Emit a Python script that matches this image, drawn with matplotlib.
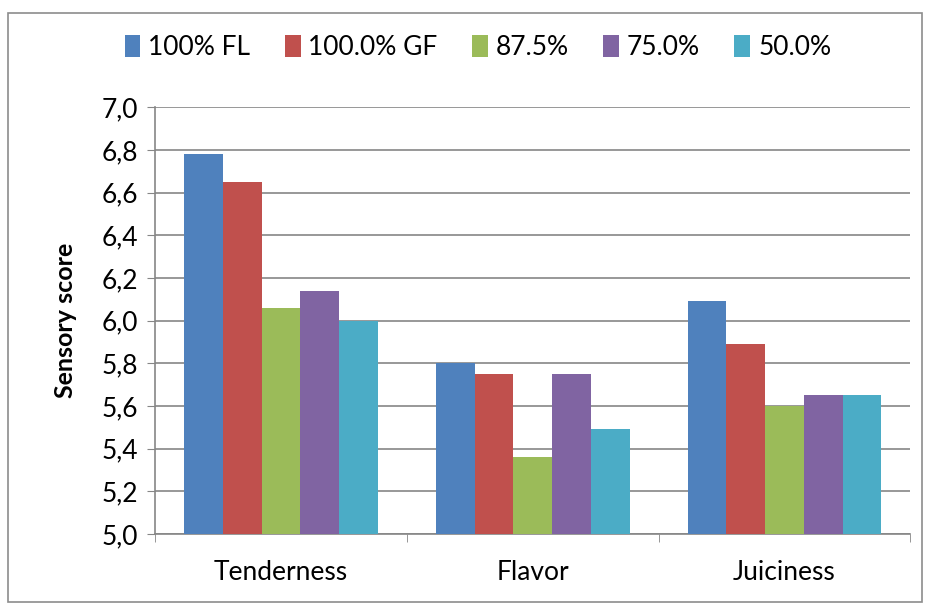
import numpy as np
import matplotlib
matplotlib.use('Agg')
from matplotlib import pyplot as plt
from matplotlib.patches import Rectangle
from matplotlib.ticker import FuncFormatter

categories = ['Tenderness', 'Flavor', 'Juiciness']
series_names = ['100% FL', '100.0% GF', '87.5%', '75.0%', '50.0%']
fl_100 = [6.78, 5.80, 6.09]
gf_100 = [6.65, 5.75, 5.89]
gf_875 = [6.06, 5.36, 5.60]
gf_750 = [6.14, 5.75, 5.65]
gf_500 = [6.00, 5.49, 5.65]
colors = ['#4F81BD', '#C0504D', '#9BBB59', '#8064A2', '#4BACC6']

plt.rcParams['font.family'] = ['Lato', 'DejaVu Sans']

fig = plt.figure(figsize=(9.28, 6.06), dpi=100)
ax = fig.add_axes([0.167, 0.119, 0.814, 0.704])

# outer chart frame
fig.patches.append(Rectangle((0.009, 0.007), 0.985, 0.972, transform=fig.transFigure,
                             fill=False, edgecolor='#8c8c8c', linewidth=1.2))

x = np.arange(len(categories))
w = 1 / 6.5
all_series = [fl_100, gf_100, gf_875, gf_750, gf_500]
for i, vals in enumerate(all_series):
    ax.bar(x + (i - 2) * w, vals, width=w, color=colors[i], label=series_names[i], zorder=3)

ax.set_ylim(5.0, 7.0)
ax.set_yticks(np.arange(5.0, 7.01, 0.2))
ax.yaxis.set_major_formatter(FuncFormatter(lambda v, p: f'{v:.1f}'.replace('.', ',')))
ax.set_xlim(-0.5, 2.5)
ax.set_xticks(x)
ax.set_xticklabels(categories)
ax.set_xticks([-0.5, 0.5, 1.5, 2.5], minor=True)
ax.tick_params(axis='x', which='major', length=0, pad=19, labelsize=19)
ax.tick_params(axis='x', which='minor', length=6, color='#868686')
ax.tick_params(axis='y', length=6, color='#868686', labelsize=19, pad=6)
ax.grid(axis='y', color='#868686', linewidth=1.2, zorder=0)

for s in ['top', 'right']:
    ax.spines[s].set_visible(False)
for s in ['left', 'bottom']:
    ax.spines[s].set_color('#868686')
    ax.spines[s].set_linewidth(1.2)

ax.set_ylabel('Sensory score', fontsize=18, fontweight='bold', labelpad=18)

fig.legend(loc='center', bbox_to_anchor=(0.515, 0.921), ncol=5, frameon=False,
           fontsize=19, handlelength=0.6, handleheight=0.9, handletextpad=0.3,
           columnspacing=1.3)

fig.savefig('out.png', dpi=100)
